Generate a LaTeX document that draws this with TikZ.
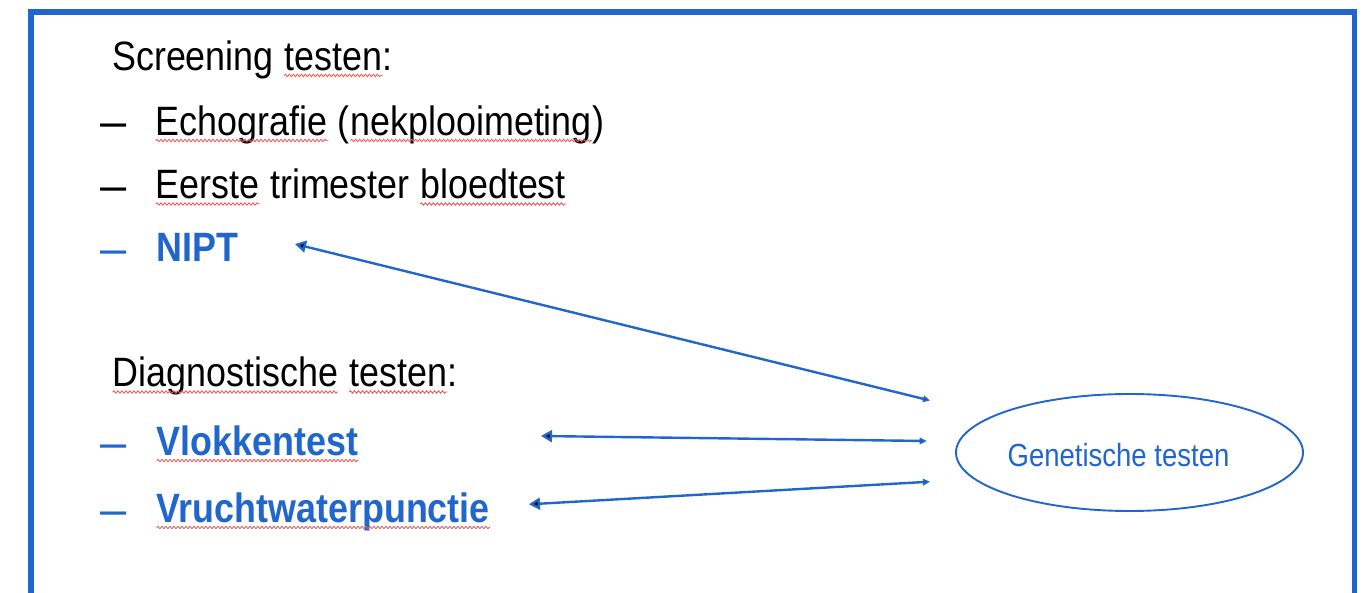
\documentclass[tikz,border=0pt]{standalone}
\usepackage{fontspec}
\setmainfont[FakeStretch=0.875]{Liberation Sans}
\newfontfamily\dashfont{Liberation Sans}
\newfontfamily\genfont[FakeStretch=0.86]{Liberation Sans}
\usetikzlibrary{arrows.meta,shapes.geometric,decorations.pathmorphing}
\definecolor{pblue}{RGB}{32,102,204}
\definecolor{squig}{RGB}{236,90,90}
\tikzset{
  txt/.style={anchor=base west, inner sep=0pt, font=\fontsize{41}{49}\selectfont},
  btxt/.style={anchor=base west, inner sep=0pt, text=pblue, font=\fontsize{41}{49}\selectfont\bfseries},
  dsh/.style={anchor=base west, inner sep=0pt, font=\dashfont\fontsize{47}{50}\selectfont},
  conn/.style={draw=pblue, line width=2.4pt, arrows={Triangle[length=11pt,width=12pt]-Triangle[length=7pt,width=6.5pt]}},
  wavy/.style={draw=squig, line width=0.9pt, decorate, decoration={snake, amplitude=1.2pt, segment length=4pt}},
}
\newcommand\sqw[1]{\tikz[baseline=(w.base)]{\node[inner sep=0pt, anchor=base west] (w) at (0,0) {#1}; \draw[wavy] ([yshift=-5pt]w.base west) -- ([yshift=-5pt]w.base east);}}
\begin{document}
\begin{tikzpicture}[x=1pt,y=1pt]
\useasboundingbox (0,0) rectangle (1367,592);
\clip (0,0) rectangle (1367,592);
\fill[white] (0,0) rectangle (1367,592);
% frame
\draw[pblue, line width=5.8pt] (31,580) rectangle (1354.5,-20);
% headers
\node[txt] (scr) at (112,521.5) {Screening \sqw{testen}:};
\node[txt] (diag) at (112,205) {\sqw{Diagnostische} \sqw{testen}:};
% items
\node[dsh] (d1) at (100,454) {–};
\node[txt] (echo) at (155,456.5) {\sqw{Echografie} (\sqw{nekplooimeting})};
\node[dsh] (d2) at (100,390.5) {–};
\node[txt] (eerste) at (155,393) {\sqw{Eerste} trimester \sqw{bloedtest}};
\node[dsh, text=pblue] (d3) at (100,327.5) {–};
\node[btxt] (nipt) at (156,330) {NIPT};
\node[dsh, text=pblue] (d4) at (100,134) {–};
\node[btxt] (vlok) at (156,136.5) {\sqw{Vlokkentest}};
\node[dsh, text=pblue] (d5) at (100,67) {–};
\node[btxt] (vrucht) at (156,69.5) {\sqw{Vruchtwaterpunctie}};
% ellipse
\node[draw=pblue, line width=1.9pt, ellipse, minimum width=347pt, minimum height=117pt, inner sep=0pt] (gen) at (1129.5,139.5) {};
\node[anchor=base, inner sep=0pt, text=pblue, font=\genfont\fontsize{32}{36}\selectfont] (gentxt) at (1118.5,125.5) {Genetische testen};
% connector ends
\coordinate (niptL) at (295,348);
\coordinate (genA) at (930,191.5);
\coordinate (vlokL) at (541,156);
\coordinate (genB) at (926.7,151);
\coordinate (vruchtL) at (529,87.7);
\coordinate (genC) at (930,110.3);
\draw[conn] (niptL) -- (genA);
\draw[conn] (vlokL) -- (genB);
\draw[conn] (vruchtL) -- (genC);
\end{tikzpicture}
\end{document}
